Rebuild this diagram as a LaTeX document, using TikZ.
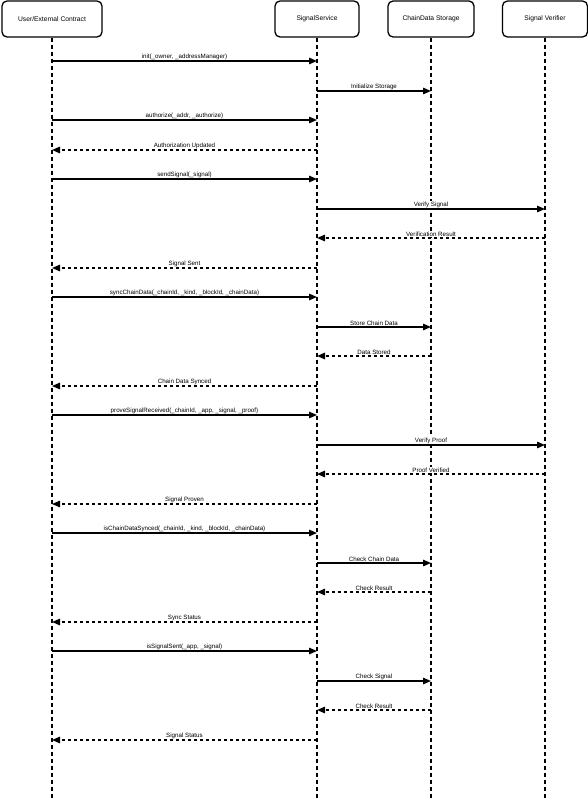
\documentclass[tikz,border=0pt]{standalone}
\usepackage{fontspec}
\setmainfont{Liberation Sans}
\usetikzlibrary{arrows.meta}

\tikzset{
  actor/.style={draw, line width=1.3pt, rounded corners=5pt, minimum height=36pt, inner sep=0pt,
    font=\fontsize{6.7}{8}\selectfont},
  lifeline/.style={line width=1.6pt, dash pattern=on 4pt off 3pt},
  call/.style={line width=1.4pt, -{Triangle[length=8pt, width=6.5pt]}},
  reply/.style={call, dash pattern=on 3pt off 3pt},
  msg/.style={above, fill=white, inner sep=0.8pt, font=\fontsize{6.2}{7}\selectfont}
}

\begin{document}
\begin{tikzpicture}[x=1pt, y=-1pt]

    \useasboundingbox (0,0) rectangle (588,800);

    % Participants
    \node[actor, minimum width=100pt] (user) at (52,19) {User/External Contract};
    \node[actor, minimum width=84pt] (service) at (317,19) {SignalService};
    \node[actor, minimum width=86pt] (storage) at (431,19) {ChainData Storage};
    \node[actor, minimum width=85pt] (verifier) at (545,19) {Signal Verifier};

    % Lifelines
    \coordinate (userEnd) at (52,800);
    \coordinate (serviceEnd) at (317,800);
    \coordinate (storageEnd) at (431,800);
    \coordinate (verifierEnd) at (545,800);
    \draw[lifeline] (user) -- (userEnd);
    \draw[lifeline] (service) -- (serviceEnd);
    \draw[lifeline] (storage) -- (storageEnd);
    \draw[lifeline] (verifier) -- (verifierEnd);

    % init and authorize
    \draw[call] (user |- 0,61) -- node[msg] {init(\_owner, \_addressManager)} (service |- 0,61);
    \draw[call] (service |- 0,91) -- node[msg] {Initialize Storage} (storage |- 0,91);
    \draw[call] (user |- 0,120) -- node[msg] {authorize(\_addr, \_authorize)} (service |- 0,120);
    \draw[reply] (service |- 0,150) -- node[msg] {Authorization Updated} (user |- 0,150);

    % sendSignal
    \draw[call] (user |- 0,179) -- node[msg] {sendSignal(\_signal)} (service |- 0,179);
    \draw[call] (service |- 0,209) -- node[msg] {Verify Signal} (verifier |- 0,209);
    \draw[reply] (verifier |- 0,238) -- node[msg] {Verification Result} (service |- 0,238);
    \draw[reply] (service |- 0,268) -- node[msg] {Signal Sent} (user |- 0,268);

    % syncChainData
    \draw[call] (user |- 0,297) -- node[msg] {syncChainData(\_chainId, \_kind, \_blockId, \_chainData)} (service |- 0,297);
    \draw[call] (service |- 0,327) -- node[msg] {Store Chain Data} (storage |- 0,327);
    \draw[reply] (storage |- 0,356) -- node[msg] {Data Stored} (service |- 0,356);
    \draw[reply] (service |- 0,386) -- node[msg] {Chain Data Synced} (user |- 0,386);

    % proveSignalReceived
    \draw[call] (user |- 0,415) -- node[msg] {proveSignalReceived(\_chainId, \_app, \_signal, \_proof)} (service |- 0,415);
    \draw[call] (service |- 0,445) -- node[msg] {Verify Proof} (verifier |- 0,445);
    \draw[reply] (verifier |- 0,474) -- node[msg] {Proof Verified} (service |- 0,474);
    \draw[reply] (service |- 0,504) -- node[msg] {Signal Proven} (user |- 0,504);

    % isChainDataSynced
    \draw[call] (user |- 0,533) -- node[msg] {isChainDataSynced(\_chainId, \_kind, \_blockId, \_chainData)} (service |- 0,533);
    \draw[call] (service |- 0,563) -- node[msg] {Check Chain Data} (storage |- 0,563);
    \draw[reply] (storage |- 0,592) -- node[msg] {Check Result} (service |- 0,592);
    \draw[reply] (service |- 0,622) -- node[msg] {Sync Status} (user |- 0,622);

    % isSignalSent
    \draw[call] (user |- 0,651) -- node[msg] {isSignalSent(\_app, \_signal)} (service |- 0,651);
    \draw[call] (service |- 0,681) -- node[msg] {Check Signal} (storage |- 0,681);
    \draw[reply] (storage |- 0,710) -- node[msg] {Check Result} (service |- 0,710);
    \draw[reply] (service |- 0,740) -- node[msg] {Signal Status} (user |- 0,740);

\end{tikzpicture}
\end{document}
